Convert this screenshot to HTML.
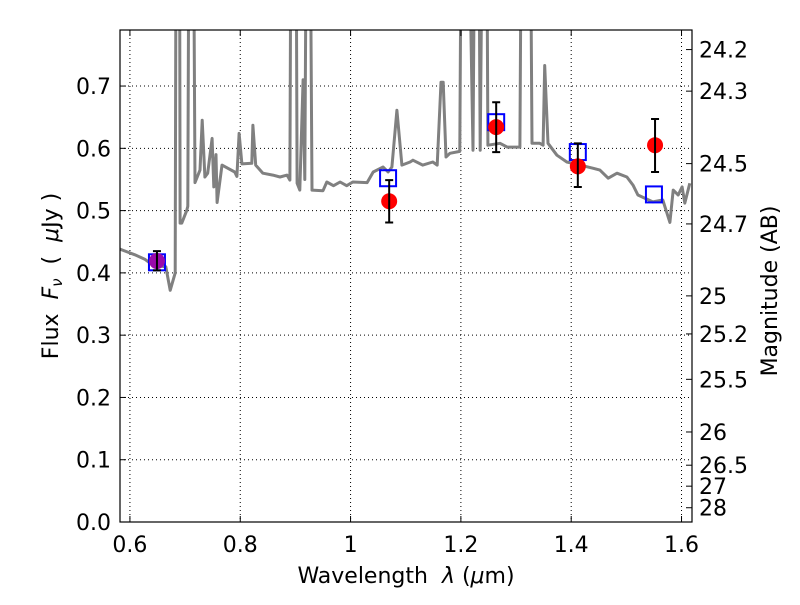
<!DOCTYPE html>
<html><head><meta charset="utf-8"><style>
body{margin:0;background:#fff}
svg text{font-family:"DejaVu Sans","Liberation Sans",sans-serif;fill:#000}
</style></head><body>
<svg id="chart" width="800" height="600" viewBox="0 0 800 600" xmlns="http://www.w3.org/2000/svg">
<defs><clipPath id="clip"><rect x="120" y="30" width="572" height="492"/></clipPath></defs>
<rect width="800" height="600" fill="#fff"/>
<g id="grid"></g>
<g id="plot" clip-path="url(#clip)"></g>
<rect x="120" y="30" width="572" height="492" fill="none" stroke="#000" stroke-width="1.2"/>
<g id="ticks"></g>
<text x="406" y="583" font-size="22" text-anchor="middle">Wavelength&#160;&#160;<tspan font-style="italic">λ</tspan> (<tspan font-style="italic">μ</tspan>m)</text>
<text transform="translate(58,276) rotate(-90)" font-size="22" text-anchor="middle">Flux&#160;&#160;<tspan font-style="italic">F</tspan><tspan font-size="15" dy="4" font-style="italic">ν</tspan><tspan dy="-4">&#160;&#160;(&#160;&#160;<tspan font-style="italic">μ</tspan>Jy )</tspan></text>
<text transform="translate(777,291) rotate(-90)" font-size="22" text-anchor="middle">Magnitude (AB)</text>
</svg>
<script>
const xTicks=[0.6,0.8,1.0,1.2,1.4,1.6];
const xTickLabels=["0.6","0.8","1","1.2","1.4","1.6"];
const yTicks=[0,0.1,0.2,0.3,0.4,0.5,0.6,0.7];
const yTickLabels=["0.0","0.1","0.2","0.3","0.4","0.5","0.6","0.7"];
const magTicks=[24.2,24.3,24.5,24.7,25,25.2,25.5,26,26.5,27,28];
const specWave=[0.582,0.609,0.627,0.636,0.654,0.665,0.673,0.682,0.685,0.689,0.691,0.694,0.703,0.705,0.709,0.712,0.718,0.727,0.731,0.736,0.741,0.749,0.752,0.756,0.758,0.767,0.790,0.794,0.798,0.803,0.821,0.823,0.828,0.841,0.859,0.872,0.885,0.890,0.894,0.899,0.903,0.908,0.914,0.917,0.923,0.930,0.950,0.957,0.969,0.981,0.993,1.004,1.030,1.041,1.059,1.068,1.075,1.084,1.093,1.108,1.113,1.131,1.149,1.157,1.164,1.168,1.173,1.180,1.198,1.204,1.222,1.229,1.235,1.244,1.249,1.271,1.284,1.307,1.313,1.322,1.329,1.343,1.349,1.352,1.358,1.374,1.392,1.416,1.440,1.452,1.467,1.483,1.501,1.512,1.521,1.548,1.566,1.579,1.585,1.594,1.601,1.606,1.615];
const specFlux=[0.438,0.429,0.422,0.416,0.411,0.410,0.372,0.400,1.5,1.5,0.48,0.48,0.500,0.507,1.5,1.5,0.545,0.565,0.645,0.554,0.560,0.616,0.538,0.590,0.513,0.573,0.562,0.555,0.624,0.575,0.576,0.637,0.573,0.560,0.557,0.554,0.557,0.549,1.5,1.5,0.544,0.533,0.710,0.550,1.5,0.533,0.532,0.546,0.540,0.546,0.540,0.546,0.545,0.562,0.570,0.562,0.570,0.661,0.573,0.578,0.581,0.573,0.578,0.573,0.706,0.706,0.586,0.592,0.595,1.5,0.597,1.5,0.597,1.5,0.605,0.608,0.602,0.602,1.5,1.5,0.608,0.608,0.605,0.733,0.608,0.589,0.578,0.573,0.568,0.565,0.552,0.560,0.554,0.541,0.525,0.514,0.517,0.481,0.533,0.525,0.538,0.512,0.544];
const obsWave=[0.649,1.070,1.264,1.412,1.552];
const obsFlux=[0.419,0.515,0.634,0.571,0.605];
const obsLow=[0.404,0.481,0.594,0.538,0.562];
const obsHigh=[0.435,0.549,0.674,0.608,0.647];
const modelWave=[0.649,1.068,1.264,1.412,1.550];
const modelFlux=[0.417,0.552,0.642,0.594,0.526];
const obsColors=["#9a0aaa","red","red","red","red"];

const NS="http://www.w3.org/2000/svg";
const X0=120,X1=692,Y0=522,Y1=30,xmin=0.582,xmax=1.619,ymin=0,ymax=0.79;
const sx=v=>X0+(v-xmin)/(xmax-xmin)*(X1-X0);
const sy=v=>Y0-(v-ymin)/(ymax-ymin)*(Y0-Y1);
function mk(tag,attrs,parent){const e=document.createElementNS(NS,tag);for(const k in attrs)e.setAttribute(k,attrs[k]);parent.appendChild(e);return e;}
const grid=document.getElementById('grid'),plot=document.getElementById('plot'),ticks=document.getElementById('ticks');

xTicks.forEach((t,i)=>{const x=sx(t);
 const g=mk('line',{x1:x,x2:x,y1:Y1,y2:Y0,stroke:'#000','stroke-width':1,'stroke-dasharray':'1,3'},grid);
 
 mk('line',{x1:x,x2:x,y1:Y0,y2:Y0-6,stroke:'#000'},ticks);
 mk('line',{x1:x,x2:x,y1:Y1,y2:Y1+6,stroke:'#000'},ticks);
 const l=mk('text',{x:x,y:552,'font-size':22,'text-anchor':'middle'},ticks);l.textContent=xTickLabels[i];
 });
yTicks.forEach((t,i)=>{const y=sy(t);
 const g=mk('line',{x1:X0,x2:X1,y1:y,y2:y,stroke:'#000','stroke-width':1,'stroke-dasharray':'1,3'},grid);
 
 mk('line',{x1:X0,x2:X0+6,y1:y,y2:y,stroke:'#000'},ticks);
 const l=mk('text',{x:111,y:y+8,'font-size':22,'text-anchor':'end'},ticks);l.textContent=yTickLabels[i];
 });
magTicks.forEach(m=>{const f=Math.pow(10,(23.9-m)/2.5);const y=sy(f);
 mk('line',{x1:X1,x2:X1-6,y1:y,y2:y,stroke:'#000'},ticks);
 const l=mk('text',{x:699,y:y+8,'font-size':22},ticks);l.textContent=String(m);
 });

const d=specWave.map((w,i)=>(i?'L':'M')+sx(w).toFixed(1)+','+sy(specFlux[i]).toFixed(1)).join('');
const sp=mk('path',{d:d,fill:'none',stroke:'#808080','stroke-width':3,'stroke-linejoin':'round'},plot);



modelWave.forEach((w,i)=>{const x=sx(w),y=sy(modelFlux[i]);
 const r=mk('rect',{x:x-8,y:y-8,width:16,height:16,fill:'none',stroke:'#0000ff','stroke-width':2},plot);
 
 });
obsWave.forEach((w,i)=>{const x=sx(w);
 const c=mk('circle',{cx:x,cy:sy(obsFlux[i]),r:8,fill:obsColors[i]},plot);
 
 
 const yl=sy(obsLow[i]),yh=sy(obsHigh[i]);
 const e=mk('path',{d:`M${x},${yl}L${x},${yh}M${x-4},${yl}L${x+4},${yl}M${x-4},${yh}L${x+4},${yh}`,stroke:'#000','stroke-width':2,fill:'none'},plot);
 
 });
</script>
</body></html>
